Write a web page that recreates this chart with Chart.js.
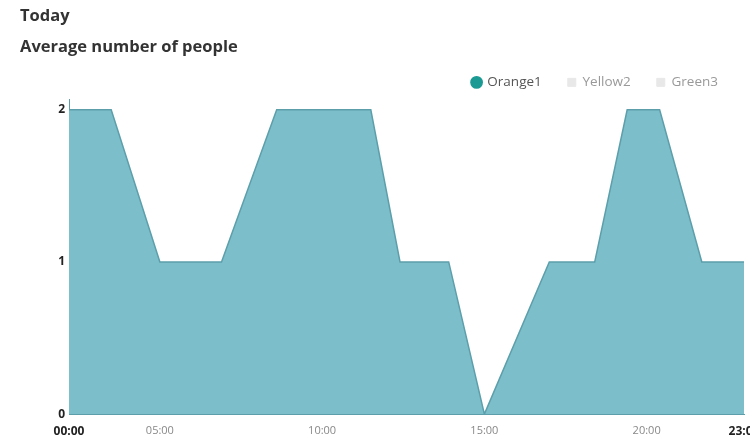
<!DOCTYPE html>
<html>
<head>
<meta charset="utf-8">
<title>Average number of people</title>
<script src="https://cdn.jsdelivr.net/npm/chart.js@4.4.1/dist/chart.umd.min.js"></script>
<style>
  html, body { margin: 0; padding: 0; background: #fff; }
</style>
</head>
<body>
<canvas id="peopleChart" width="750" height="444"></canvas>
<script>
// hours where the line bends, and the people count at each of them
const hours = [2.2, 3.5, 5, 6.9, 8.6, 11.5, 12.4, 13.9, 15, 17, 18.4, 19.4, 20.4, 21.7, 23];
const people = [2, 2, 1, 1, 2, 2, 1, 1, 0, 1, 1, 2, 2, 1, 1];
const seriesNames = ['Orange1', 'Yellow2', 'Green3'];
const xTickValues = [2.2, 5, 10, 15, 20, 23];
const xTickLabels = ['00:00', '05:00', '10:00', '15:00', '20:00', '23:00'];
const yTickValues = [0, 1, 2];

const fillColor = '#7dbecb';
const edgeColor = '#5c9fab';

Chart.defaults.font.family = "'Open Sans', sans-serif";

function isEdgeTick(ctx) {
    return ctx.index === 0 || ctx.index === xTickValues.length - 1;
}

const ctx = document.getElementById('peopleChart').getContext('2d');
new Chart(ctx, {
    type: 'line',
    data: {
        datasets: [{
            label: seriesNames[0],
            data: hours.map((h, i) => ({ x: h, y: people[i] })),
            borderColor: edgeColor,
            backgroundColor: fillColor,
            borderWidth: 1.5,
            fill: 'origin',
            tension: 0,
            pointRadius: 0,
            pointStyle: 'circle',
        }, {
            label: seriesNames[1],
            data: [],
            borderColor: '#e8e8e8',
            backgroundColor: '#e8e8e8',
            pointStyle: 'rect',
        }, {
            label: seriesNames[2],
            data: [],
            borderColor: '#e8e8e8',
            backgroundColor: '#e8e8e8',
            pointStyle: 'rect',
        }]
    },
    options: {
        responsive: false,
        animation: false,
        layout: {
            padding: { left: 20, right: 6, top: 0, bottom: -4.5 }
        },
        plugins: {
            title: {
                display: true,
                text: 'Today',
                align: 'start',
                color: '#333',
                font: { size: 16.5, weight: 'bold' },
                padding: { top: 6, bottom: 8 },
            },
            subtitle: {
                display: true,
                text: 'Average number of people',
                align: 'start',
                color: '#333',
                font: { size: 16.5, weight: 'bold' },
                padding: { top: 4, bottom: -8 },
            },
            legend: {
                align: 'end',
                labels: {
                    usePointStyle: true,
                    boxWidth: 8,
                    boxHeight: 8,
                    padding: 26,
                    font: { size: 13.5 },
                    generateLabels: (chart) => {
                        const items = Chart.defaults.plugins.legend.labels.generateLabels(chart);
                        items.forEach((item, i) => {
                            if (i === 0) {
                                item.fillStyle = '#1b9a93';
                                item.strokeStyle = '#1b9a93';
                                item.fontColor = '#555';
                            } else {
                                item.fontColor = '#999';
                            }
                        });
                        return items;
                    }
                }
            },
            tooltip: { enabled: false }
        },
        scales: {
            x: {
                type: 'linear',
                min: xTickValues[0],
                max: xTickValues[xTickValues.length - 1],
                grid: { display: false, drawTicks: false },
                border: { display: true, color: edgeColor },
                afterBuildTicks: (scale) => {
                    scale.ticks = xTickValues.map(v => ({ value: v }));
                },
                afterFit: (scale) => {
                    scale.paddingLeft = 0;
                    scale.paddingRight = 0;
                },
                ticks: {
                    autoSkip: false,
                    maxRotation: 0,
                    padding: 10,
                    callback: (value, index) => xTickLabels[index],
                    font: (c) => isEdgeTick(c) ? { size: 12, weight: 'bold' } : { size: 11 },
                    color: (c) => isEdgeTick(c) ? '#222' : '#888',
                }
            },
            y: {
                min: 0,
                max: 2.07,
                grid: { display: false, drawTicks: false },
                border: { display: true, color: edgeColor },
                afterBuildTicks: (scale) => {
                    scale.ticks = yTickValues.map(v => ({ value: v }));
                },
                afterFit: (scale) => {
                    scale.width = 49;
                },
                ticks: {
                    padding: 4,
                    color: '#222',
                    font: { size: 12, weight: 'bold' },
                }
            }
        }
    }
});
</script>
</body>
</html>
